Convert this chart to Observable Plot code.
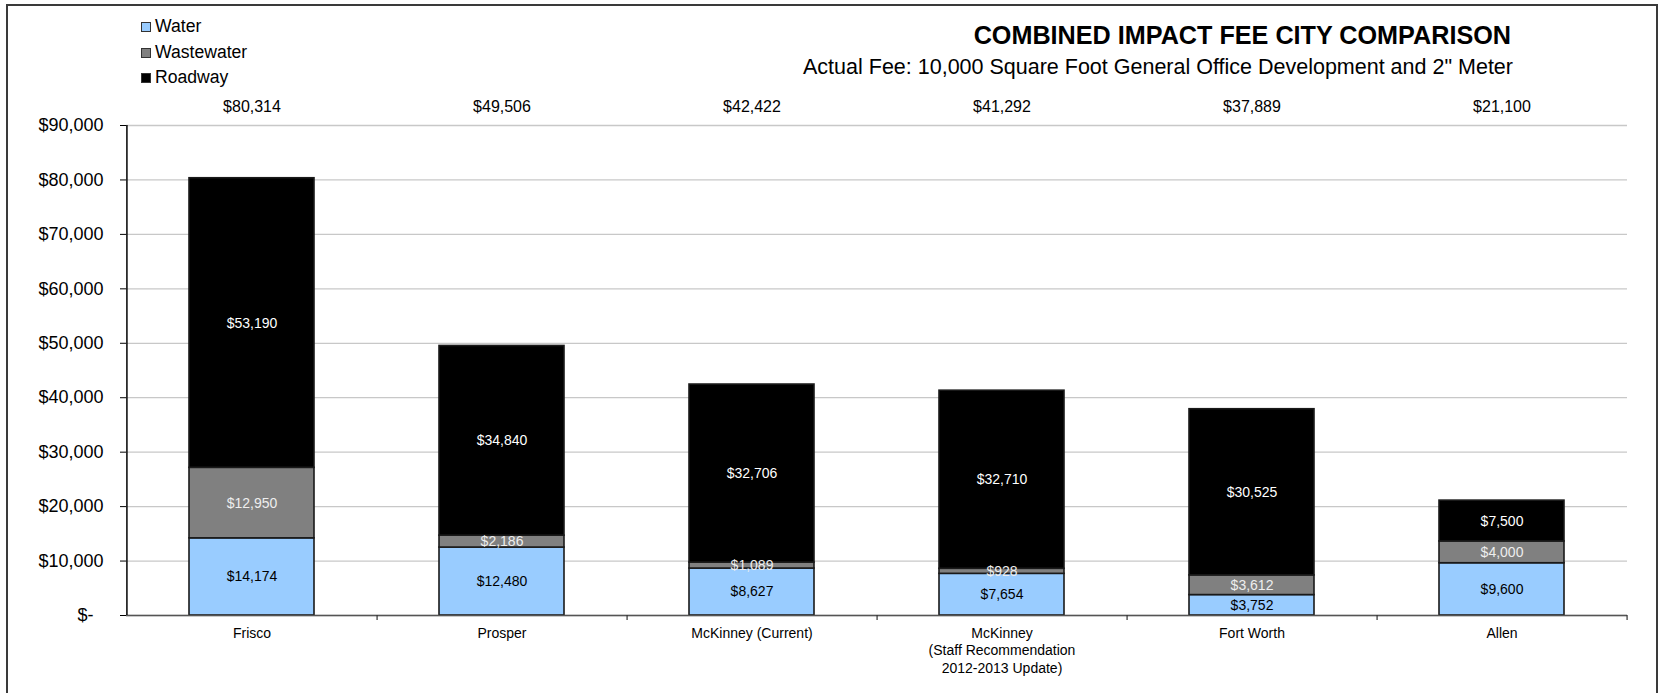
<!DOCTYPE html>
<html>
<head>
<meta charset="utf-8">
<script src="https://cdn.jsdelivr.net/npm/d3@7"></script>
<script src="https://cdn.jsdelivr.net/npm/@observablehq/plot@0.6"></script>
<style>
  html, body { margin: 0; padding: 0; background: #fff; }
  body { font-family: "Liberation Sans", Arial, sans-serif; }
  #wrap { position: relative; width: 1661px; height: 693px; overflow: hidden; background: #fff; }
  #header { position: relative; height: 95px; }
  .leg { position: absolute; left: 141px; font-size: 17.6px; line-height: 20px; color: #000; white-space: nowrap; }
  .sw { display: inline-block; width: 8px; height: 8px; border: 1px solid #333; margin-right: 4px; vertical-align: 0px; }
  #title { position: absolute; right: 150px; top: 21px; font-size: 25.2px; line-height: 28px; font-weight: bold; white-space: nowrap; }
  #subtitle { position: absolute; right: 148px; top: 55px; font-size: 21.5px; line-height: 24px; white-space: nowrap; }
  #frame { position: absolute; left: 6px; top: 4px; width: 1652px; height: 720px; border: 2px solid #3a3a3a; box-sizing: border-box; pointer-events: none; }
</style>
</head>
<body>
<div id="wrap">
  <div id="header">
    <div id="legend"></div>
    <div id="title">COMBINED IMPACT FEE CITY COMPARISON</div>
    <div id="subtitle">Actual Fee: 10,000 Square Foot General Office Development and 2" Meter</div>
  </div>
  <div id="chart"></div>
  <div id="frame"></div>
</div>
<script>
// ---- data ----
const cities = ["Frisco", "Prosper", "McKinney (Current)", "McKinney\n(Staff Recommendation\n2012-2013 Update)", "Fort Worth", "Allen"];
const types = ["Water", "Wastewater", "Roadway"];
const water = [14174, 12480, 8627, 7654, 3752, 9600];
const wastewater = [12950, 2186, 1089, 928, 3612, 4000];
const roadway = [53190, 34840, 32706, 32710, 30525, 7500];
const totals = [80314, 49506, 42422, 41292, 37889, 21100];
const yTicks = [0, 10000, 20000, 30000, 40000, 50000, 60000, 70000, 80000, 90000];

// ---- styles ----
const fillColors = {Water: "#99ccff", Wastewater: "#808080", Roadway: "#000000"};
const labelColors = {Water: "#000000", Wastewater: "#eeeeee", Roadway: "#ffffff"};

const series = {Water: water, Wastewater: wastewater, Roadway: roadway};
const table = [];
for (const t of types) cities.forEach((c, i) => table.push({city: c, type: t, value: series[t][i]}));
const totalRows = cities.map((c, i) => ({city: c, total: totals[i]}));

const money = d3.format(",");
const fmt = v => "$" + money(v);

// legend
const legend = document.getElementById("legend");
const legTops = [16, 42, 67];
types.forEach((t, i) => {
  const el = document.createElement("div");
  el.className = "leg";
  el.style.top = legTops[i] + "px";
  el.innerHTML = `<span class="sw" style="background:${fillColors[t]}"></span>${t}`;
  legend.appendChild(el);
});

const W = 1661, H = 598, mL = 126, mR = 34, mT = 30, mB = 78;
const step = (W - mL - mR) / cities.length;

const chart = Plot.plot({
  width: W,
  height: H,
  marginTop: mT,
  marginBottom: mB,
  marginLeft: mL,
  marginRight: mR,
  style: {background: "transparent", fontFamily: "'Liberation Sans', Arial, sans-serif", color: "#000"},
  x: {domain: cities, paddingInner: 0.5, paddingOuter: 0.25, label: null},
  y: {domain: [0, 90000], label: null},
  color: {type: "identity"},
  marks: [
    Plot.gridY(yTicks, {stroke: "#c8c8c8", strokeOpacity: 1, strokeWidth: 1.3}),
    Plot.barY(table, Plot.stackY({x: "city", y: "value", z: "type", fill: d => fillColors[d.type], stroke: "#1a1a1a", strokeWidth: 1.6})),
    Plot.text(table, Plot.stackY({x: "city", y: "value", z: "type", text: d => fmt(d.value), fill: d => labelColors[d.type], fontSize: 14})),
    Plot.text(totalRows, {x: "city", text: d => fmt(d.total), frameAnchor: "top", lineAnchor: "middle", dy: -19, fontSize: 16, fill: "#000"}),
    Plot.ruleY([0], {stroke: "#555", strokeWidth: 1.5}),
    // y-axis line at the left edge of the first band step
    Plot.ruleX([cities[0]], {x: d => d, y1: 0, y2: 90000, dx: -step / 2, stroke: "#000", strokeWidth: 1.5}),
    // category separator ticks below the baseline
    Plot.ruleX(cities, {x: d => d, y1: 0, y2: 0, dx: step / 2, insetBottom: -5, stroke: "#333", strokeWidth: 1.2}),
    Plot.axisY({ticks: yTicks, tickSize: 6, tickPadding: 17, fontSize: 18, tickFormat: d => d === 0 ? "$-\u00a0\u00a0" : fmt(d), stroke: "#000"}),
    Plot.axisX({tickSize: 0, tickPadding: 10, fontSize: 14, lineHeight: 1.25, label: null})
  ]
});
document.getElementById("chart").appendChild(chart);
</script>
</body>
</html>
